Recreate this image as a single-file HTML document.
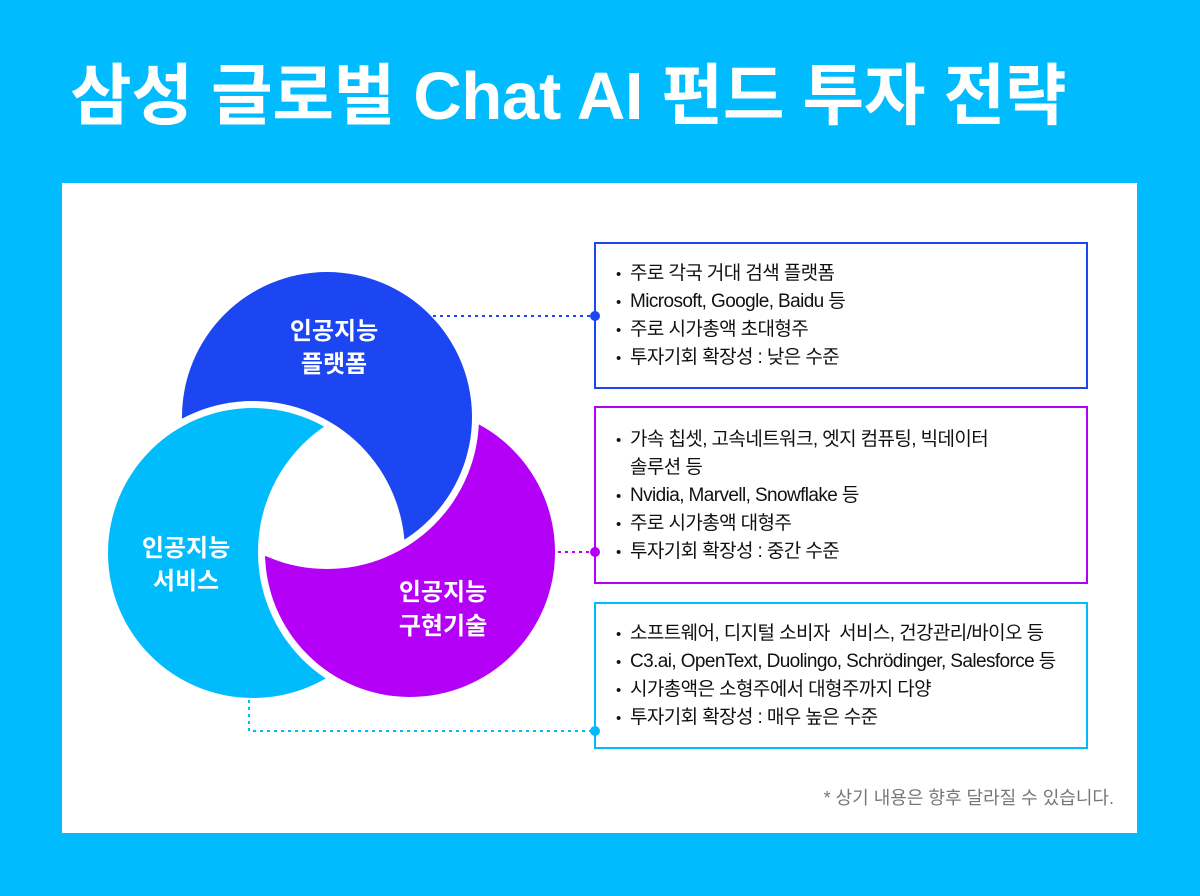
<!DOCTYPE html>
<html><head><meta charset="utf-8"><style>
html,body{margin:0;padding:0}
body{width:1200px;height:896px;background:#00bbfd;position:relative;overflow:hidden;font-family:"Liberation Sans","Noto Sans CJK KR",sans-serif}
.title{position:absolute;left:70px;top:52px;font-size:67px;font-weight:bold;color:#fff;letter-spacing:-0.3px;white-space:nowrap;line-height:90px}
.panel{position:absolute;left:62px;top:183px;width:1075px;height:650px;background:#fff}
.box{position:absolute;left:594px;border:2px solid;box-sizing:border-box;width:494px}
.box ul{list-style:none;margin:0;padding:0;position:absolute;left:20px;font-size:19px;color:#111;letter-spacing:-0.6px}
.box li{height:28px;line-height:28px;white-space:nowrap}
.box li:before{content:"•";display:inline-block;width:14px;font-size:15px}
.box li.nb:before{content:""}
.note{position:absolute;right:86px;top:784px;font-size:18px;color:#777;white-space:nowrap}
</style></head><body>
<div class="title">삼성 글로벌 Chat AI 펀드 투자 전략</div>
<div class="panel"></div>
<svg width="1200" height="896" style="position:absolute;left:0;top:0">
<defs>
<mask id="mb"><rect width="1200" height="896" fill="#fff"/><circle cx="253" cy="553" r="152" fill="#000"/></mask>
<mask id="mc"><rect width="1200" height="896" fill="#fff"/><circle cx="410" cy="552" r="152" fill="#000"/></mask>
<mask id="mp"><rect width="1200" height="896" fill="#fff"/><circle cx="327" cy="417" r="152" fill="#000"/></mask>
</defs>
<circle cx="327" cy="417" r="145" fill="#1b46f2" mask="url(#mb)"/>
<circle cx="253" cy="553" r="145" fill="#00bcfc" mask="url(#mc)"/>
<circle cx="410" cy="552" r="145" fill="#b400f7" mask="url(#mp)"/>
<g font-family="Liberation Sans,Noto Sans CJK KR,sans-serif" font-weight="bold" font-size="24" fill="#fff" text-anchor="middle">
<text x="334" y="339">인공지능</text><text x="334" y="372">플랫폼</text>
<text x="186" y="556">인공지능</text><text x="186" y="589">서비스</text>
<text x="443" y="600">인공지능</text><text x="443" y="634">구현기술</text>
</g>
<g stroke-width="2" stroke-dasharray="3 4" fill="none">
<path d="M433 316H594" stroke="#1b46f2"/>
<path d="M558 552H594" stroke="#b400f7"/>
<path d="M249 700V731H594" stroke="#00bcfc"/>
</g>
</svg>
<div class="box" style="top:242px;height:147px;border-color:#1b46f2"><ul style="top:16px">
<li>주로 각국 거대 검색 플랫폼</li><li>Microsoft, Google, Baidu 등</li><li>주로 시가총액 초대형주</li><li>투자기회 확장성 : 낮은 수준</li></ul></div>
<div class="box" style="top:406px;height:178px;border-color:#b400f7"><ul style="top:18px">
<li>가속 칩셋, 고속네트워크, 엣지 컴퓨팅, 빅데이터</li><li class="nb">솔루션 등</li><li>Nvidia, Marvell, Snowflake 등</li><li>주로 시가총액 대형주</li><li>투자기회 확장성 : 중간 수준</li></ul></div>
<div class="box" style="top:602px;height:147px;border-color:#00bcfc"><ul style="top:16px">
<li>소프트웨어, 디지털 소비자&nbsp; 서비스, 건강관리/바이오 등</li><li>C3.ai, OpenText, Duolingo, Schrödinger, Salesforce 등</li><li>시가총액은 소형주에서 대형주까지 다양</li><li>투자기회 확장성 : 매우 높은 수준</li></ul></div>
<svg width="1200" height="896" style="position:absolute;left:0;top:0">
<circle cx="595" cy="316" r="5" fill="#1b46f2"/>
<circle cx="595" cy="552" r="5" fill="#b400f7"/>
<circle cx="595" cy="731" r="5" fill="#00bcfc"/>
</svg>
<div class="note">* 상기 내용은 향후 달라질 수 있습니다.</div>
</body></html>
